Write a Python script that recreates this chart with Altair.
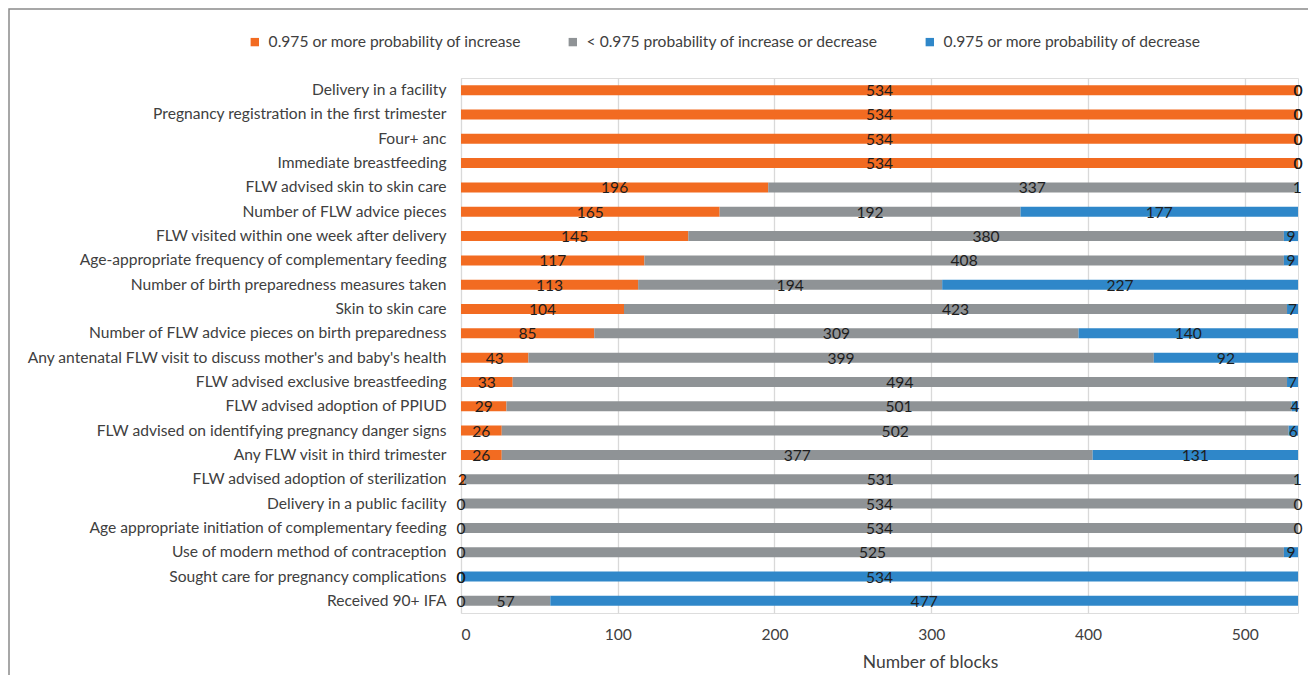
import altair as alt
import pandas as pd

categories = [
    "Delivery in a facility",
    "Pregnancy registration in the first trimester",
    "Four+ anc",
    "Immediate breastfeeding",
    "FLW advised skin to skin care",
    "Number of FLW advice pieces",
    "FLW visited within one week after delivery",
    "Age-appropriate frequency of complementary feeding",
    "Number of birth preparedness measures taken",
    "Skin to skin care",
    "Number of FLW advice pieces on birth preparedness",
    "Any antenatal FLW visit to discuss mother's and baby's health",
    "FLW advised exclusive breastfeeding",
    "FLW advised adoption of PPIUD",
    "FLW advised on identifying pregnancy danger signs",
    "Any FLW visit in third trimester",
    "FLW advised adoption of sterilization",
    "Delivery in a public facility",
    "Age appropriate initiation of complementary feeding",
    "Use of modern method of contraception",
    "Sought care for pregnancy complications",
    "Received 90+ IFA",
]
increase = [534, 534, 534, 534, 196, 165, 145, 117, 113, 104, 85, 43, 33, 29, 26, 26, 2, 0, 0, 0, 0, 0]
neutral = [0, 0, 0, 0, 337, 192, 380, 408, 194, 423, 309, 399, 494, 501, 502, 377, 531, 534, 534, 525, 0, 57]
decrease = [0, 0, 0, 0, 1, 177, 9, 9, 227, 7, 140, 92, 7, 4, 6, 131, 1, 0, 0, 9, 534, 477]

series_names = [
    "0.975 or more probability of increase",
    "< 0.975 probability of increase or decrease",
    "0.975 or more probability of decrease",
]
series_colors = ["#F26B21", "#8F9396", "#2F87C9"]
x_ticks = [0, 100, 200, 300, 400, 500]

rows = []
for i, c in enumerate(categories):
    for k, vals in enumerate([increase, neutral, decrease]):
        rows.append({"category": c, "series": series_names[k], "order": k, "value": vals[i]})
df = pd.DataFrame(rows)

FONT = "Lato"
FS = 15.6

base = alt.Chart(df).transform_stack(
    stack="value", groupby=["category"], as_=["x0", "x1"],
    sort=[alt.SortField("order", order="ascending")],
).transform_calculate(mid="(datum.x0 + datum.x1) / 2")

y_enc = alt.Y(
    "category:N", sort=categories, title=None,
    scale=alt.Scale(paddingInner=0.6, paddingOuter=0.3),
    axis=alt.Axis(labelFont=FONT, labelFontSize=FS, labelColor="#404040",
                  ticks=False, domain=False, labelPadding=15, labelLimit=600),
)
x_scale = alt.Scale(domain=[0, 534], nice=False, zero=True)

bars = base.mark_bar(size=10).encode(
    y=y_enc,
    x=alt.X("x0:Q", scale=x_scale, title="Number of blocks",
            axis=alt.Axis(values=x_ticks, grid=True, gridColor="#D9D9D9", gridWidth=1.3,
                          domain=False, ticks=False, labelFont=FONT, labelFontSize=FS,
                          labelColor="#404040", labelPadding=14,
                          titleFont=FONT, titleFontSize=17.5, titleFontWeight="normal",
                          titleColor="#404040", titlePadding=11, titleX=469,
                          titleAlign="center")),
    x2="x1:Q",
    color=alt.Color("series:N", sort=series_names,
                    scale=alt.Scale(domain=series_names, range=series_colors),
                    legend=alt.Legend(title=None, orient="none", direction="horizontal",
                                      legendX=-214, legendY=-44, columns=3,
                                      columnPadding=43, labelFont=FONT, labelFontSize=FS,
                                      labelColor="#404040", labelLimit=500, symbolType="square",
                                      symbolSize=70, symbolStrokeWidth=0, labelOffset=6)),
    order=alt.Order("order:Q"),
)

labels = base.mark_text(font=FONT, fontSize=FS, color="#1E1E1E", baseline="middle", dy=1).encode(
    y=alt.Y("category:N", sort=categories),
    x=alt.X("mid:Q", scale=x_scale),
    text=alt.Text("value:Q"),
)

frame = alt.Chart(pd.DataFrame({"f": [0]})).mark_rect(
    fill="white", fillOpacity=0, stroke="#8A8A8A", strokeWidth=1.5, clip=False
).encode(
    x=alt.value(-452), x2=alt.value(900), y=alt.value(-69), y2=alt.value(700)
)

chart = alt.layer(frame, bars, labels).properties(
    width=837, height=535,
    padding={"left": 453, "top": 70, "right": 10, "bottom": 62},
    autosize=alt.AutoSizeParams(type="none"),
).configure_view(stroke=None).configure(background="white")

chart.save("out.html", embed_options={"renderer": "svg", "actions": False})
